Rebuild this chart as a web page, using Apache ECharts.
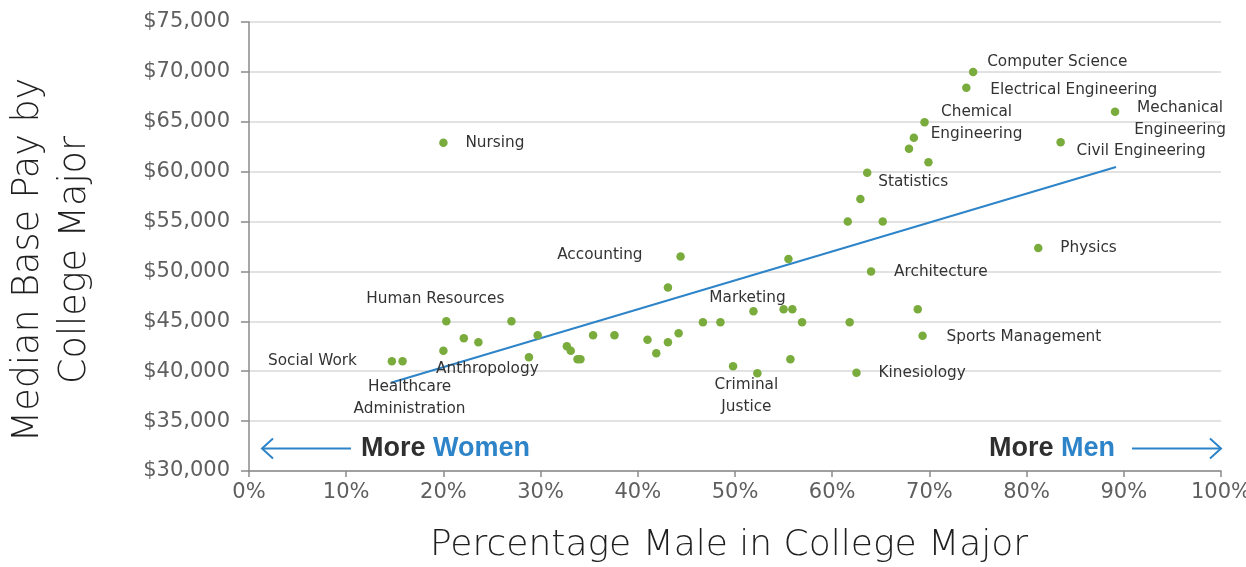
<!DOCTYPE html>
<html>
<head>
<meta charset="utf-8">
<title>Median Base Pay by College Major</title>
<script src="https://cdn.jsdelivr.net/npm/echarts@6/dist/echarts.min.js"></script>
<style>
  html, body { margin: 0; padding: 0; background: #ffffff; }
  #chart { width: 1246px; height: 567px; }
</style>
</head>
<body>
<div id="chart"></div>
<script>
// College majors: share of male students (%) and median base pay ($)
const majors = [
  'Nursing', 'Social Work', 'Healthcare\nAdministration', 'Human Resources', '', '', 'Anthropology', '', '', '',
  'Accounting', '', 'Architecture', '', 'Marketing', '', '', '', '', '',
  '', '', '', '', '', '', '', '', '', '',
  '', '', 'Criminal\nJustice', '', 'Kinesiology', 'Computer Science', 'Electrical Engineering', 'Mechanical\nEngineering', 'Chemical\nEngineering', '',
  '', 'Civil Engineering', '', 'Statistics', '', '', '', 'Physics', '', 'Sports Management'
];
const pctMale = [
  20.0, 14.7, 15.8, 20.3, 27.0, 22.1, 23.6, 20.0, 29.7, 28.8,
  44.4, 55.5, 64.0, 43.1, 51.9, 55.0, 55.9, 46.7, 48.5, 56.9,
  61.8, 35.4, 37.6, 41.0, 43.1, 44.2, 32.7, 33.1, 33.8, 34.1,
  41.9, 49.8, 52.3, 55.7, 62.5, 74.5, 73.8, 89.1, 69.5, 68.4,
  67.9, 83.5, 69.9, 63.6, 62.9, 61.6, 65.2, 81.2, 68.8, 69.3
];
const medianPay = [
  62900, 41000, 41000, 45000, 45000, 43300, 42900, 42050, 43600, 41400,
  51500, 51250, 50000, 48400, 46000, 46200, 46200, 44900, 44900, 44900,
  44900, 43600, 43600, 43150, 42900, 43800, 42500, 42050, 41200, 41200,
  41800, 40500, 39800, 41200, 39850, 70000, 68400, 66000, 64950, 63400,
  62300, 62950, 60950, 59900, 57250, 55000, 55000, 52350, 46200, 43550
];

// Linear trend line endpoints
const trendPct = [14.6, 89.2];
const trendPay = [38850, 60470];

// Axis ticks
const xTicks = [0, 10, 20, 30, 40, 50, 60, 70, 80, 90, 100];
const yTicks = [30000, 35000, 40000, 45000, 50000, 55000, 60000, 65000, 70000, 75000];

const GREEN = '#79ac3c';
const BLUE = '#2e84c8';
const TEXT = '#333333';
const FONT = 'DejaVu Sans';

// Label placement for each named point: anchor alignment and offset from the dot centre
const labelPlacement = {
  'Nursing':                    { align: 'left',   dx: 22,  dy: 0 },
  'Social Work':                { align: 'right',  dx: -35, dy: 0 },
  'Healthcare\nAdministration': { align: 'center', dx: 7,   dy: 37 },
  'Human Resources':            { align: 'center', dx: -11, dy: -22 },
  'Anthropology':               { align: 'center', dx: 9,   dy: 27 },
  'Accounting':                 { align: 'right',  dx: -38, dy: -1 },
  'Marketing':                  { align: 'center', dx: -6,  dy: -13 },
  'Criminal\nJustice':          { align: 'center', dx: -11, dy: 23 },
  'Kinesiology':                { align: 'left',   dx: 22,  dy: 0 },
  'Architecture':               { align: 'left',   dx: 23,  dy: 1 },
  'Physics':                    { align: 'left',   dx: 22,  dy: 0 },
  'Sports Management':          { align: 'left',   dx: 24,  dy: 1 },
  'Statistics':                 { align: 'left',   dx: 11,  dy: 9 },
  'Civil Engineering':          { align: 'left',   dx: 16,  dy: 9 },
  'Computer Science':           { align: 'left',   dx: 14,  dy: -10 },
  'Electrical Engineering':     { align: 'left',   dx: 24,  dy: 2 },
  'Chemical\nEngineering':      { align: 'center', dx: 52,  dy: 1 },
  'Mechanical\nEngineering':    { align: 'center', dx: 65,  dy: 7 }
};

const scatterData = majors.map((name, i) => {
  const item = { name: name, value: [pctMale[i], medianPay[i]] };
  const p = labelPlacement[name];
  if (p) {
    item.label = {
      show: true,
      position: 'inside',
      align: p.align,
      verticalAlign: 'middle',
      offset: [p.dx, p.dy],
      formatter: '{b}'
    };
  }
  return item;
});

const trendData = trendPct.map((x, i) => [x, trendPay[i]]);

const chart = echarts.init(document.getElementById('chart'), null, { renderer: 'canvas' });

chart.setOption({
  animation: false,
  backgroundColor: '#ffffff',
  grid: { left: 249, right: 25, top: 22, bottom: 96, containLabel: false, outerBoundsMode: 'none' },
  xAxis: {
    type: 'value',
    min: xTicks[0],
    max: xTicks[xTicks.length - 1],
    interval: xTicks[1] - xTicks[0],
    axisLine: { show: true, lineStyle: { color: '#8a8a8a', width: 1.5 } },
    axisTick: { show: true, length: 6, lineStyle: { color: '#8a8a8a', width: 1.5 } },
    axisLabel: {
      formatter: '{value}%',
      fontFamily: FONT,
      fontSize: 21,
      color: '#5f5f5f',
      margin: 11
    },
    splitLine: { show: false }
  },
  yAxis: {
    type: 'value',
    min: yTicks[0],
    max: yTicks[yTicks.length - 1],
    interval: yTicks[1] - yTicks[0],
    axisLine: { show: true, lineStyle: { color: '#8a8a8a', width: 1.5 } },
    axisTick: { show: true, length: 8, lineStyle: { color: '#8a8a8a', width: 1.5 } },
    axisLabel: {
      formatter: v => '$' + v.toLocaleString('en-US'),
      fontFamily: FONT,
      fontSize: 21,
      color: '#5f5f5f',
      margin: 19
    },
    splitLine: { show: true, lineStyle: { color: '#d9d9d9', width: 1.5 } }
  },
  series: [
    {
      name: 'Trend',
      type: 'line',
      data: trendData,
      symbol: 'none',
      lineStyle: { color: BLUE, width: 2 },
      silent: true,
      z: 2
    },
    {
      name: 'Majors',
      type: 'scatter',
      data: scatterData,
      symbol: 'circle',
      symbolSize: 8.5,
      itemStyle: { color: GREEN, opacity: 1 },
      label: {
        show: false,
        color: TEXT,
        fontFamily: FONT,
        fontSize: 15.3,
        lineHeight: 22
      },
      z: 3
    }
  ],
  graphic: [
    {
      type: 'text',
      x: 52,
      y: 260,
      rotation: Math.PI / 2,
      style: {
        text: 'Median Base Pay by\nCollege Major',
        fontFamily: FONT,
        fontWeight: 300,
        fontSize: 36.5,
        lineHeight: 47,
        fill: '#1f1f1f',
        align: 'center',
        verticalAlign: 'middle'
      }
    },
    {
      type: 'text',
      x: 729,
      y: 546,
      style: {
        text: 'Percentage Male in College Major',
        fontFamily: FONT,
        fontWeight: 300,
        fontSize: 36,
        fill: '#1f1f1f',
        align: 'center',
        verticalAlign: 'middle'
      }
    },
    {
      type: 'text',
      x: 361,
      y: 449,
      style: {
        text: '{m|More }{w|Women}',
        align: 'left',
        verticalAlign: 'middle',
        rich: {
          m: { fontFamily: 'Liberation Sans', fontWeight: 'bold', fontSize: 27, fill: '#2f2f2f' },
          w: { fontFamily: 'Liberation Sans', fontWeight: 'bold', fontSize: 27, fill: BLUE }
        }
      }
    },
    {
      type: 'text',
      x: 989,
      y: 449,
      style: {
        text: '{m|More }{w|Men}',
        align: 'left',
        verticalAlign: 'middle',
        rich: {
          m: { fontFamily: 'Liberation Sans', fontWeight: 'bold', fontSize: 27, fill: '#2f2f2f' },
          w: { fontFamily: 'Liberation Sans', fontWeight: 'bold', fontSize: 27, fill: BLUE }
        }
      }
    },
    // Left-pointing arrow
    {
      type: 'polyline',
      shape: { points: [[351, 448.5], [262, 448.5]] },
      style: { stroke: BLUE, lineWidth: 2, fill: null }
    },
    {
      type: 'polyline',
      shape: { points: [[273, 438.5], [262, 448.5], [273, 458.5]] },
      style: { stroke: BLUE, lineWidth: 2, fill: null }
    },
    // Right-pointing arrow
    {
      type: 'polyline',
      shape: { points: [[1132, 448.5], [1221, 448.5]] },
      style: { stroke: BLUE, lineWidth: 2, fill: null }
    },
    {
      type: 'polyline',
      shape: { points: [[1210, 438.5], [1221, 448.5], [1210, 458.5]] },
      style: { stroke: BLUE, lineWidth: 2, fill: null }
    }
  ]
});
</script>
</body>
</html>
